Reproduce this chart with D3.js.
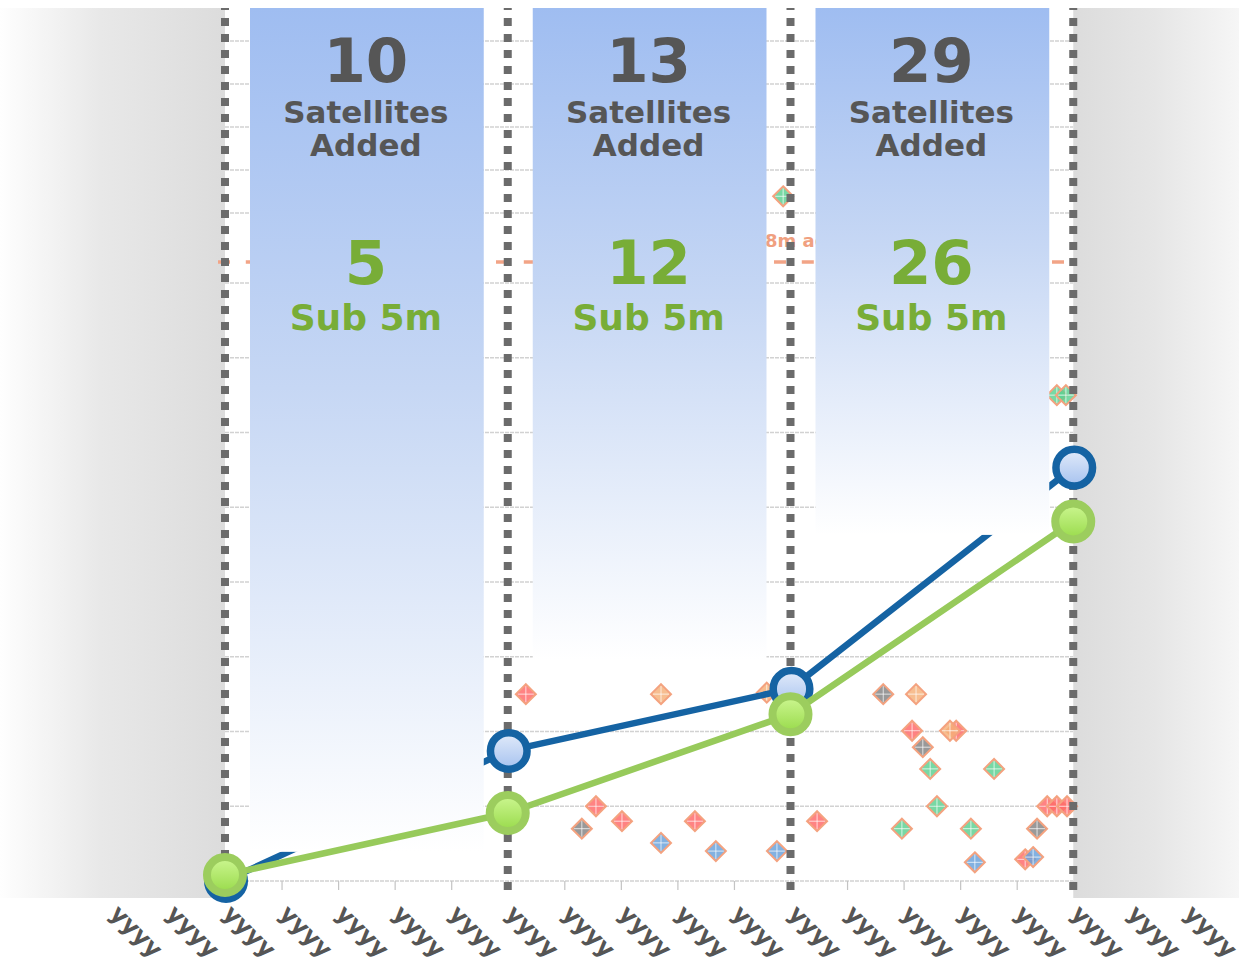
<!DOCTYPE html>
<html>
<head>
<meta charset="utf-8">
<script src="https://cdn.jsdelivr.net/npm/d3@7"></script>
<style>
  body { margin: 0; background: #fff; }
  svg { display: block; }
</style>
</head>
<body>
<svg id="chart"></svg>
<script>
// ---- data ----
const yearLabels = d3.range(20).map(() => "yyyy");
const milestoneIdx = [2, 7, 12, 17];
const satellitesTotal = [0, 1.74, 2.57, 5.53];
const sub5mTotal = [0.08, 0.91, 2.23, 4.81];
const satellitesAdded = [10, 13, 29];
const sub5mAdded = [5, 12, 26];
const panelFloor = [0.39, 2.96, 4.63];
const gridLower = d3.range(0, 9);
const gridUpper = [1, 2, 3, 4, 5];
const refLevel = 8.28;
const refLabel = "8m accuracy";

const redPts = [[7.32, 2.5], [8.56, 1.0], [9.02, 0.8], [10.31, 0.8], [12.47, 0.8], [14.15, 2.01],
    [14.93, 2.01], [16.15, 0.29], [16.54, 1.0], [16.71, 1.0], [16.89, 1.0]];
const orangePts = [[9.71, 2.5], [11.58, 2.52], [14.22, 2.5], [14.82, 2.01]];
const grayPts = [[8.31, 0.7], [13.64, 2.5], [14.34, 1.79], [16.36, 0.7]];
const greenPts = [[11.87, 9.16], [16.71, 6.5], [16.87, 6.5], [14.47, 1.5], [15.6, 1.5],
    [14.59, 1.0], [13.97, 0.7], [15.19, 0.7]];
const bluePts = [[9.71, 0.51], [10.68, 0.4], [11.76, 0.4], [15.26, 0.25], [16.29, 0.32]];

// ---- layout ----
const width = 1239, height = 967;
const plotTop = 8, plotBottom = 898;
const font = "'DejaVu Sans', Verdana, sans-serif";

const svg = d3.select("#chart").attr("width", width).attr("height", height);

const x = d3.scaleLinear().domain([0, 19]).range([111.9, 111.9 + 56.55 * 19]);
const y = d3.scaleLinear().domain([0, 8]).range([881, 283]);
const yTop = d3.scaleLinear().domain([0, 5]).range([256, 41]);

const left = x(milestoneIdx[0]);
const right = x(milestoneIdx[milestoneIdx.length - 1]);

const defs = svg.append("defs");

function linGrad(id, stops, horizontal) {
    const g = defs.append("linearGradient").attr("id", id)
        .attr("x1", 0).attr("y1", 0)
        .attr("x2", horizontal ? 1 : 0).attr("y2", horizontal ? 0 : 1);
    stops.forEach(s => g.append("stop").attr("offset", s[0]).attr("stop-color", s[1]));
}
linGrad("bandL", [[0, "#fefefe"], [0.45, "#e8e8e8"], [1, "#dcdcdc"]], true);
linGrad("bandR", [[0, "#dcdcdc"], [0.5, "#e6e6e6"], [1, "#f6f6f6"]], true);
linGrad("panel", [[0, "#9fbdf1"], [0.45, "#c6d7f4"], [1, "#ffffff"]], false);
linGrad("blueFill", [[0, "#e2ebfa"], [1, "#a6c2ef"]], false);
linGrad("greenFill", [[0, "#cdf792"], [1, "#98da4a"]], false);

// grid
const grid = svg.append("g").attr("class", "grid")
    .attr("stroke", "#d2d2d2").attr("stroke-width", 1.6).attr("stroke-dasharray", "4,1");
grid.selectAll("line.lo").data(gridLower).join("line").attr("class", "lo")
    .attr("x1", left).attr("x2", right).attr("y1", d => y(d)).attr("y2", d => y(d));
grid.selectAll("line.hi").data(gridUpper).join("line").attr("class", "hi")
    .attr("x1", left).attr("x2", right).attr("y1", d => yTop(d)).attr("y2", d => yTop(d));

// x axis
const axis = svg.append("g").attr("transform", `translate(0,${y(0)})`)
    .call(d3.axisBottom(x).tickValues(d3.range(20)).tickSize(9).tickFormat(i => yearLabels[i]));
axis.select(".domain").remove();
axis.selectAll(".tick line").attr("stroke", "#c4c4c4").attr("stroke-width", 1.2);
axis.selectAll(".tick text")
    .attr("x", 0).attr("y", 0).attr("dy", 0)
    .attr("transform", "translate(-4,34) rotate(45)")
    .attr("text-anchor", "start")
    .attr("fill", "#555555")
    .style("font-family", font).style("font-weight", "bold").style("font-size", "24px");

// side bands
svg.append("rect").attr("x", 0).attr("y", plotTop).attr("width", left).attr("height", plotBottom - plotTop)
    .attr("fill", "url(#bandL)");
svg.append("rect").attr("x", right).attr("y", plotTop).attr("width", width - right).attr("height", plotBottom - plotTop)
    .attr("fill", "url(#bandR)");

// reference line
svg.append("line").attr("x1", 218).attr("x2", right).attr("y1", y(refLevel)).attr("y2", y(refLevel))
    .attr("stroke", "#f2a486").attr("stroke-width", 3.5).attr("stroke-dasharray", "12,15.8");
svg.append("text").attr("x", 765).attr("y", y(refLevel) - 15)
    .attr("fill", "#f0a080").style("font-family", font).style("font-weight", "bold").style("font-size", "18px")
    .text(refLabel);

// scatter diamonds
const scatterSets = [
    [redPts, "#ff6868"], [orangePts, "#f5b078"], [grayPts, "#828282"],
    [greenPts, "#5acf90"], [bluePts, "#66a0da"]
];
const diamond = "M0,-10L10,0L0,10L-10,0Z";
const scatter = svg.append("g").attr("class", "scatter");
scatterSets.forEach(([pts, col]) => {
    const g = scatter.selectAll(null).data(pts).join("g")
        .attr("transform", d => `translate(${x(d[0])},${y(d[1])})`);
    g.append("path").attr("d", diamond).attr("fill", col).attr("fill-opacity", 0.82)
        .attr("stroke", "#f4a27f").attr("stroke-width", 2);
    g.append("path").attr("d", "M-8,0H8M0,-8V8").attr("stroke", "#fff").attr("stroke-opacity", 0.7)
        .attr("stroke-width", 1);
});

// blue line (sits under the panels)
const pts = arr => arr.map((v, i) => [x(milestoneIdx[i]), y(v)]);
svg.append("path").attr("d", d3.line()(pts(satellitesTotal)))
    .attr("fill", "none").attr("stroke", "#1563a3").attr("stroke-width", 6.5).attr("stroke-linejoin", "round");

// panels
const panels = d3.range(3).map(i => ({
    x0: x(milestoneIdx[i]) + 25,
    x1: x(milestoneIdx[i + 1]) - 24,
    floor: panelFloor[i],
    added: satellitesAdded[i],
    sub: sub5mAdded[i]
}));
const pg = svg.append("g").selectAll("g").data(panels).join("g");
pg.append("rect").attr("x", d => d.x0).attr("y", plotTop)
    .attr("width", d => d.x1 - d.x0).attr("height", d => y(d.floor) - plotTop)
    .attr("fill", "url(#panel)");
const cx = d => (d.x0 + d.x1) / 2 - 1;
const ptxt = (sel, yy, size, col, txt) => sel.append("text").attr("x", cx).attr("y", yy)
    .attr("text-anchor", "middle").attr("fill", col)
    .style("font-family", font).style("font-weight", "bold").style("font-size", size + "px").text(txt);
ptxt(pg, 82, 61, "#565656", d => d.added);
ptxt(pg, 123, 31, "#565656", "Satellites");
ptxt(pg, 156, 31, "#565656", "Added");
ptxt(pg, 284, 61, "#78ad37", d => d.sub);
ptxt(pg, 330, 36, "#78ad37", "Sub 5m");

// milestone dotted lines
svg.append("g").selectAll("line").data(milestoneIdx).join("line")
    .attr("x1", d => x(d)).attr("x2", d => x(d)).attr("y1", plotTop).attr("y2", 896)
    .attr("stroke", "#6b6b6b").attr("stroke-width", 8)
    .attr("stroke-dasharray", "8,8").attr("stroke-dashoffset", 6);

// markers
svg.append("g").selectAll("circle").data(pts(satellitesTotal)).join("circle")
    .attr("cx", d => d[0] + 1).attr("cy", d => d[1])
    .attr("r", 18.3).attr("fill", "url(#blueFill)").attr("stroke", "#1563a3").attr("stroke-width", 7.5);

svg.append("path").attr("d", d3.line()(pts(sub5mTotal)))
    .attr("fill", "none").attr("stroke", "#97ca5b").attr("stroke-width", 6.5).attr("stroke-linejoin", "round");
svg.append("g").selectAll("circle").data(pts(sub5mTotal)).join("circle")
    .attr("cx", d => d[0]).attr("cy", d => d[1])
    .attr("r", 18).attr("fill", "url(#greenFill)").attr("stroke", "#9ccd5e").attr("stroke-width", 8);
</script>
</body>
</html>
